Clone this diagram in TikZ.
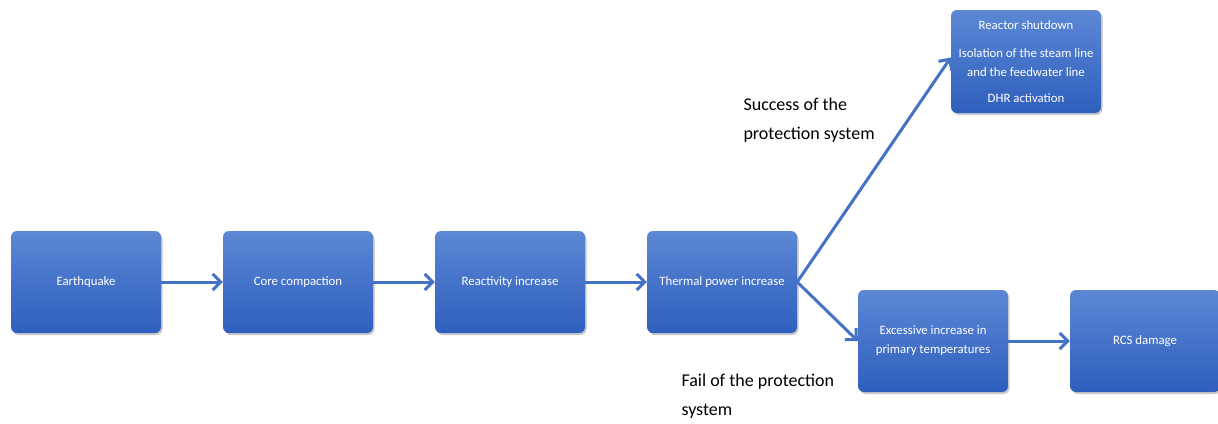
\documentclass[tikz,border=0pt]{standalone}
\usepackage{fontspec}
\setmainfont{Carlito}
\usetikzlibrary{arrows.meta,shadows}
\definecolor{flowblue}{HTML}{4472C4}
\definecolor{boxtop}{HTML}{5B87D4}
\definecolor{boxbot}{HTML}{2F5FBE}
\tikzset{
  stepbox/.style={rounded corners=6pt, top color=boxtop, bottom color=boxbot,
    draw=none, minimum width=150pt, minimum height=102pt, text=white,
    font=\fontsize{12.8}{19}\selectfont, align=center, inner sep=2pt,
    drop shadow={shadow xshift=1.5pt, shadow yshift=-2pt, opacity=0.35, fill=black!60}},
  flow/.style={draw=flowblue, line width=3pt,
    -{Straight Barb[length=8pt,width=16pt,line width=3pt]}},
  caption/.style={font=\fontsize{18}{29}\selectfont, align=left, anchor=west, text=black}
}
\begin{document}
\begin{tikzpicture}[x=1pt,y=-1pt]
  \useasboundingbox (0,0) rectangle (1218,423);
  \node[stepbox] (eq)  at (86,282)  {Earthquake};
  \node[stepbox] (cc)  at (298,282) {Core compaction};
  \node[stepbox] (ri)  at (510,282) {Reactivity increase};
  \node[stepbox] (tp)  at (722,282) {Thermal power increase};
  \node[stepbox, minimum height=103pt] (ok) at (1026,61.5)
    {Reactor shutdown\\[9pt]Isolation of the steam line\\and the feedwater line\\[7pt]DHR activation};
  \node[stepbox] (ex)  at (933,341) {Excessive increase in\\primary temperatures};
  \node[stepbox] (rcs) at (1145,341) {RCS damage};

  \draw[flow] (eq) -- (cc);
  \draw[flow] (cc) -- (ri);
  \draw[flow] (ri) -- (tp);
  \draw[flow] (tp.east) -- ([yshift=4pt]ok.west);
  \draw[flow] (tp.east) -- (ex.west);
  \draw[flow] (ex) -- (rcs);

  \node[caption] (succ) at (740,120) {Success of the\\protection system};
  \node[caption] (fail) at (678,396) {Fail of the protection\\system};
\end{tikzpicture}
\end{document}
